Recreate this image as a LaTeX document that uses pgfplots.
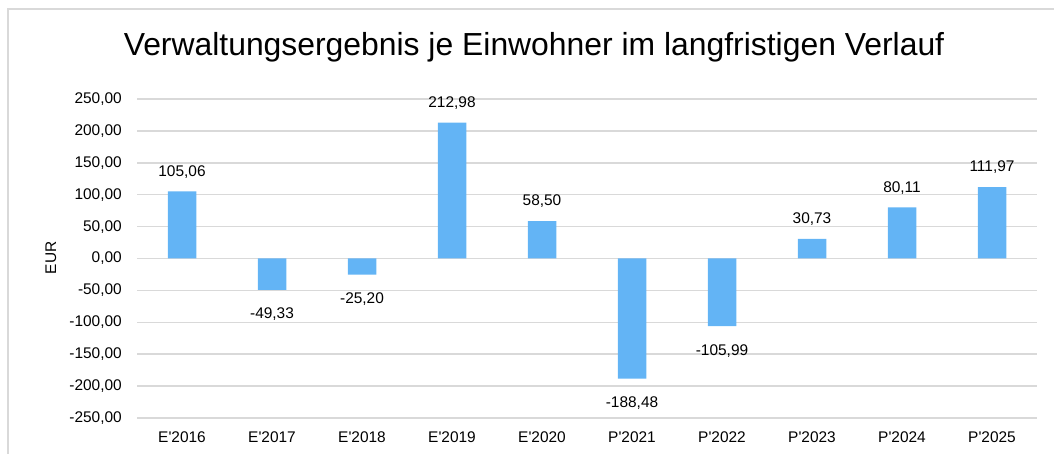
\documentclass[border=0pt]{standalone}
\usepackage{fontspec}
\setmainfont{Liberation Sans}
\usepackage{pgfplots}
\pgfplotsset{compat=1.18}
\definecolor{barblue}{RGB}{99,180,245}
\definecolor{gridgray}{RGB}{217,217,217}
\begin{document}
\begin{tikzpicture}
\path[use as bounding box] (0bp,0bp) rectangle (1054bp,454bp);
\draw[gridgray, line width=1.5bp] (8bp,0bp) -- (8bp,445bp) -- (1054bp,445bp);
\node[font=\fontsize{32}{38}\selectfont, inner sep=0pt] at (534bp,407bp) {Verwaltungsergebnis je Einwohner im langfristigen Verlauf};
\node[font=\fontsize{15.5}{18}\selectfont, rotate=90, inner sep=0pt] at (51bp,196bp) {EUR};
\begin{axis}[
  at={(137bp,36bp)}, anchor=south west,
  width=900bp, height=319bp, scale only axis,
  xmin=-0.5, xmax=9.5, ymin=-250, ymax=250,
  ytick={-250,-200,...,250},
  xtick={0,...,9},
  xticklabels={E\textquotesingle2016,E\textquotesingle2017,E\textquotesingle2018,E\textquotesingle2019,E\textquotesingle2020,P\textquotesingle2021,P\textquotesingle2022,P\textquotesingle2023,P\textquotesingle2024,P\textquotesingle2025},
  axis line style={draw=none},
  major tick length=0pt,
  ymajorgrids,
  grid style={gridgray, line width=1.5bp},
  tick label style={font=\fontsize{15.5}{18}\selectfont},
  /pgf/number format/assume math mode=true,
  /pgf/number format/fixed,
  /pgf/number format/fixed zerofill,
  /pgf/number format/precision=2,
  /pgf/number format/use comma,
  /pgf/number format/1000 sep={},
  yticklabel style={anchor=east, inner sep=0pt, xshift=-15bp},
  xticklabel style={anchor=center, inner sep=0pt, yshift=-19bp},
  ybar, bar width=28.5bp,
  nodes near coords,
  nodes near coords align={vertical},
  every node near coord/.append style={font=\fontsize{15.5}{18}\selectfont, inner xsep=0pt, inner ysep=16.5bp, yshift=-1.5bp, text depth=0pt, text=black},
  clip=false,
]
\addplot[fill=barblue, draw=none] coordinates {
(0,105.06) (1,-49.33) (2,-25.20) (3,212.98) (4,58.50)
(5,-188.48) (6,-105.99) (7,30.73) (8,80.11) (9,111.97)};
\end{axis}
\end{tikzpicture}
\end{document}
